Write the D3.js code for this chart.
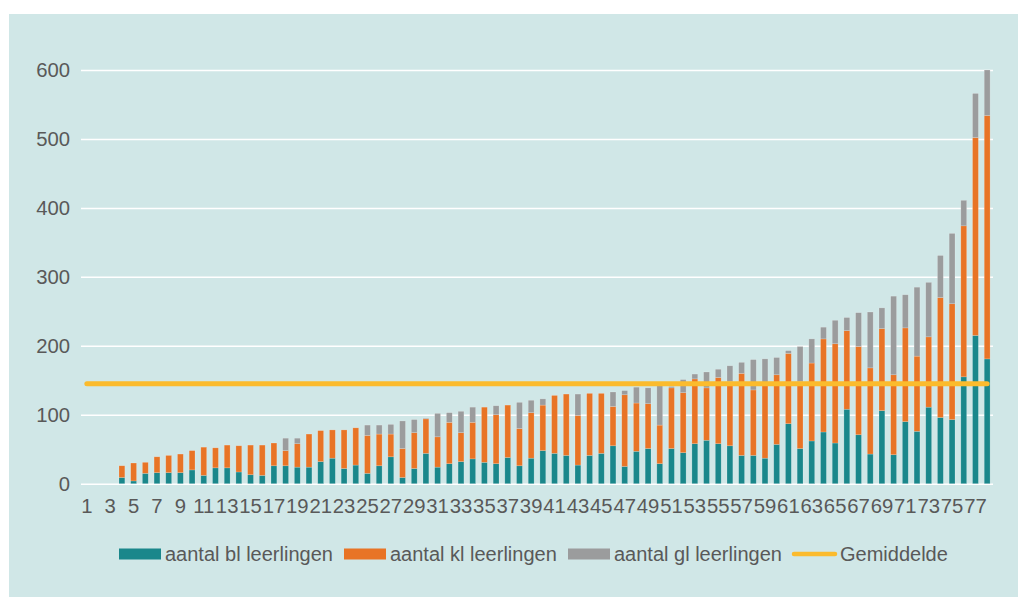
<!DOCTYPE html>
<html>
<head>
<meta charset="utf-8">
<script src="https://cdn.jsdelivr.net/npm/d3@7"></script>
<style>
  html, body { margin: 0; padding: 0; background: #ffffff; }
  svg { display: block; font-family: "Liberation Sans", Arial, sans-serif; }
</style>
</head>
<body>
<svg width="1018" height="597"></svg>
<script>
// Schools numbered 1..78 (first three have no pupils)
const categories = d3.range(1, 79);

// Tick labels shown on the x axis (every other school)
const xTickLabels = [1, 3, 5, 7, 9, 11, 13, 15, 17, 19, 21, 23, 25, 27, 29, 31, 33, 35, 37, 39,
  41, 43, 45, 47, 49, 51, 53, 55, 57, 59, 61, 63, 65, 67, 69, 71, 73, 75, 77];

const yTicks = [0, 100, 200, 300, 400, 500, 600];

// aantal bl leerlingen
const blValues = [0, 0, 0, 9, 4, 15, 16, 16, 16, 20, 12, 23, 23, 17, 13, 12, 26, 26, 24, 24,
  32, 37, 22, 27, 15, 26, 39, 9, 22, 44, 24, 29, 32, 36, 31, 29, 38, 26, 37, 48,
  44, 41, 27, 41, 44, 55, 25, 47, 51, 29, 51, 45, 58, 63, 58, 55, 41, 41, 37, 57,
  87, 51, 62, 75, 59, 108, 71, 43, 106, 42, 90, 76, 111, 96, 93, 155, 215, 181];

// aantal kl leerlingen
const klValues = [0, 0, 0, 17, 26, 16, 23, 25, 27, 28, 41, 29, 33, 38, 43, 44, 33, 22, 34, 48,
  45, 41, 56, 54, 55, 46, 33, 42, 52, 50, 44, 60, 42, 53, 80, 71, 76, 54, 66, 66,
  84, 89, 72, 90, 87, 57, 104, 70, 65, 56, 88, 87, 94, 76, 96, 93, 119, 95, 108, 101,
  102, 97, 113, 135, 144, 114, 128, 125, 119, 116, 136, 109, 102, 174, 168, 219, 287, 353];

// aantal gl leerlingen
const glValues = [0, 0, 0, 0, 0, 0, 0, 0, 0, 0, 0, 0, 0, 0, 0, 0, 0, 18, 8, 0,
  0, 0, 0, 0, 15, 13, 14, 40, 19, 1, 34, 14, 31, 22, 0, 13, 0, 38, 18, 9,
  0, 0, 31, 0, 0, 21, 6, 23, 23, 58, 2, 19, 7, 23, 12, 23, 16, 44, 36, 25,
  4, 51, 35, 17, 34, 19, 49, 81, 30, 114, 48, 100, 79, 61, 102, 37, 64, 66];

// Gemiddelde (average over all schools)
const gemiddelde = 145;

const seriesNames = ["aantal bl leerlingen", "aantal kl leerlingen", "aantal gl leerlingen"];
const seriesColors = ["#1a878b", "#e87426", "#9b9c9d"];
const avgColor = "#fbbb2d";
const textColor = "#595959";
const fontSize = "20.3px";

const svg = d3.select("svg");

// Light panel behind the chart
svg.append("rect")
  .attr("x", 9).attr("y", 14)
  .attr("width", 1009).attr("height", 583)
  .attr("fill", "#d0e7e7");

const plot = { left: 81, right: 993, top: 70, bottom: 483.7 };

const x = d3.scaleBand()
  .domain(categories)
  .range([plot.left, plot.right])
  .paddingInner(0.5)
  .paddingOuter(0.25);

const y = d3.scaleLinear()
  .domain([0, 600])
  .range([plot.bottom, plot.top]);

// y grid + labels
const yAxis = svg.append("g")
  .attr("transform", `translate(${plot.left},0)`)
  .call(d3.axisLeft(y)
    .tickValues(yTicks)
    .tickSize(-(plot.right - plot.left))
    .tickPadding(11)
    .tickFormat(d3.format("d")));
yAxis.select(".domain").remove();
yAxis.selectAll(".tick line").attr("stroke", "#ffffff").attr("stroke-width", 1.5);
yAxis.selectAll(".tick text")
  .attr("fill", textColor)
  .style("font-size", fontSize)
  .style("font-family", '"Liberation Sans", Arial, sans-serif');

// Stacked bars
const table = categories.map((c, i) => ({
  cat: c, bl: blValues[i], kl: klValues[i], gl: glValues[i]
}));
const stack = d3.stack().keys(["bl", "kl", "gl"])(table);

svg.append("g")
  .selectAll("g")
  .data(stack)
  .join("g")
  .attr("fill", (d, i) => seriesColors[i])
  .selectAll("rect")
  .data(d => d.filter(p => p[1] - p[0] > 0))
  .join("rect")
  .attr("x", d => x(d.data.cat))
  .attr("width", x.bandwidth())
  .attr("y", d => y(d[1]))
  .attr("height", d => y(d[0]) - y(d[1]))
  .attr("stroke", "rgba(255,255,255,0.3)")
  .attr("stroke-width", 0.6);

// Average line
const line = d3.line()
  .x(d => x(d) + x.bandwidth() / 2)
  .y(() => y(gemiddelde));

svg.append("path")
  .datum([categories[0], categories[categories.length - 1]])
  .attr("d", line)
  .attr("fill", "none")
  .attr("stroke", avgColor)
  .attr("stroke-width", 5)
  .attr("stroke-linecap", "round");

// x labels
const xAxis = svg.append("g")
  .attr("transform", `translate(0,${plot.bottom})`)
  .call(d3.axisBottom(x).tickValues(xTickLabels).tickSize(0).tickPadding(15));
xAxis.select(".domain").remove();
xAxis.selectAll(".tick text")
  .attr("fill", textColor)
  .style("font-size", fontSize)
  .style("font-family", '"Liberation Sans", Arial, sans-serif');

// Legend
const legendY = 554;
const legendItems = [
  { name: seriesNames[0], color: seriesColors[0], x: 119, type: "rect" },
  { name: seriesNames[1], color: seriesColors[1], x: 344, type: "rect" },
  { name: seriesNames[2], color: seriesColors[2], x: 568, type: "rect" },
  { name: "Gemiddelde", color: avgColor, x: 794, type: "line" }
];

const legend = svg.append("g");
legendItems.forEach(item => {
  if (item.type === "rect") {
    legend.append("rect")
      .attr("x", item.x).attr("y", legendY - 5.5)
      .attr("width", 42).attr("height", 11)
      .attr("fill", item.color);
  } else {
    legend.append("line")
      .attr("x1", item.x).attr("x2", item.x + 41)
      .attr("y1", legendY).attr("y2", legendY)
      .attr("stroke", item.color)
      .attr("stroke-width", 4.5)
      .attr("stroke-linecap", "round");
  }
  legend.append("text")
    .attr("x", item.x + 46).attr("y", legendY)
    .attr("dy", "0.35em")
    .attr("fill", textColor)
    .style("font-size", "20px")
    .text(item.name);
});
</script>
</body>
</html>
